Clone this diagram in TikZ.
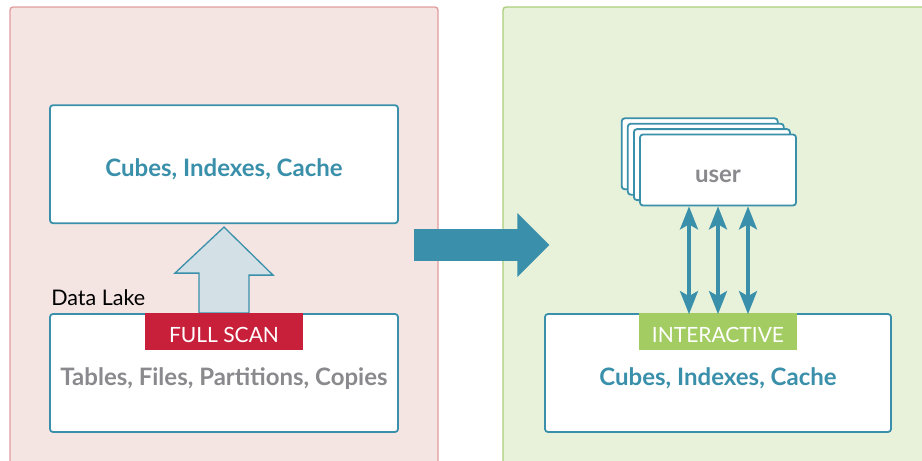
\documentclass[tikz,border=0pt]{standalone}
\usepackage{fontspec}
\setmainfont{Lato}
\usetikzlibrary{positioning,arrows.meta,calc}

\definecolor{linkblue}{HTML}{3A90AA}
\definecolor{scanred}{HTML}{C8203A}
\definecolor{livegreen}{HTML}{A3CD62}
\definecolor{txtgray}{HTML}{8A8A8E}
\definecolor{oldfill}{HTML}{F4E4E2}
\definecolor{olddraw}{HTML}{E09C9C}
\definecolor{newfill}{HTML}{E8F2DB}
\definecolor{newdraw}{HTML}{A8D07A}
\definecolor{scanfill}{HTML}{D3E0E6}

\begin{document}
\begin{tikzpicture}[x=1pt, y=-1pt,
        panel/.style={draw, line width=1.3pt, rounded corners=3pt, minimum width=428pt,
                      minimum height=476pt},
        box/.style={draw=linkblue, line width=1.8pt, fill=white, rounded corners=3pt,
                    minimum width=348pt, minimum height=118pt, text height=25pt, text depth=0pt,
                    font=\fontsize{24}{28}\selectfont\bfseries},
        userbox/.style={box, minimum width=156pt, minimum height=71pt},
        tag/.style={anchor=north, inner sep=0pt, minimum width=158pt, minimum height=37pt,
                    text height=22pt, text depth=0pt, text=white, font=\fontsize{21}{25}\selectfont},
        dbl/.style={linkblue, line width=3.5pt, {Stealth[length=23pt, width=18pt, inset=5pt]}-{Stealth[length=23pt, width=18pt, inset=5pt]}}]
        \useasboundingbox (0,0) rectangle (922,461);
        \clip (0,0) rectangle (922,461);

        \node[panel, draw=olddraw, fill=oldfill] (before) at (224,245) {};
        \node[panel, draw=newdraw, fill=newfill, minimum width=440pt] (after) at (723,245) {};

        \node[box, text=txtgray] (lake) at (224,373) {Tables, Files, Partitions, Copies};
        \node[box, text=linkblue, above=89pt of lake] (cubes) {Cubes, Indexes, Cache};
        \node[anchor=south west, inner sep=0pt, font=\fontsize{21.5}{25}\selectfont]
            (lakename) at ([xshift=2pt, yshift=7pt]lake.north west) {Data Lake};

        \draw[linkblue, line width=1.3pt, fill=scanfill] ([yshift=-3pt]cubes.south) -- ++(49,48) -- ++(-24,0)
            -- (lake.north -| 249,0) -- (lake.north -| 199,0) -- ++(0,-40) -- ++(-24,0) -- cycle;
        \node[tag, fill=scanred] (scan) at (lake.north) {FULL SCAN};

        \node[box, text=linkblue, minimum width=346pt] (live) at (718,373) {Cubes, Indexes, Cache};
        \node[tag, fill=livegreen] (interactive) at (live.north) {INTERACTIVE};

        \foreach \i in {3,2,1}
            \node[userbox] at ([shift={(-6.1*\i,-5.4*\i)}]718,170) {};
        \node[userbox, text=txtgray] (user) at (718,170) {user};

        \foreach \dx in {-29,0,30}
            \draw[dbl] ([xshift=\dx]user.south) -- ([xshift=\dx, yshift=-1pt]live.north);

        \draw[linkblue, line width=32pt, -{Triangle[length=32pt, width=62pt]}]
            ([xshift=-25pt]before.east) -- ([xshift=47pt]after.west);
\end{tikzpicture}
\end{document}
